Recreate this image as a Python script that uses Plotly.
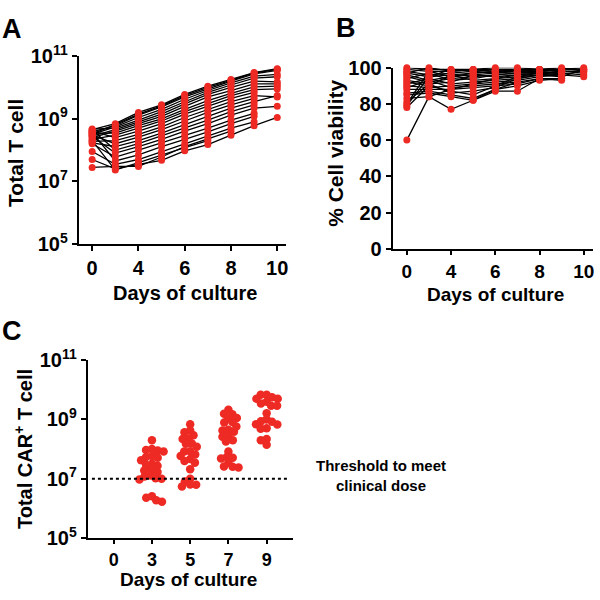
import numpy as np
import plotly.graph_objects as go

# ---------------- data ----------------
DAYS_AB = ["0", "3", "4", "5", "6", "7", "8", "9", "10"]
TICK_DAYS_AB = ["0", "4", "6", "8", "10"]

# Panel A: total T cells per donor (days 0,3,4,5,6,7,8,9,10)
TOTAL_T = [
    [4.5e8, 7.0e8, 1.6e9, 2.8e9, 6.0e9, 1.1e10, 1.8e10, 3.0e10, 4.0e10],
    [3.8e8, 6.0e8, 1.3e9, 2.4e9, 5.0e9, 9.0e9, 1.6e10, 2.7e10, 3.5e10],
    [3.2e8, 5.5e8, 1.1e9, 2.0e9, 4.2e9, 8.0e9, 1.4e10, 2.3e10, 2.6e10],
    [4.7e8, 5.0e8, 9.0e8, 1.7e9, 3.5e9, 7.0e9, 1.2e10, 2.0e10, 2.2e10],
    [2.8e8, 4.5e8, 8.0e8, 1.4e9, 3.0e9, 6.0e9, 1.0e10, 1.6e10, 1.5e10],
    [2.5e8, 4.0e8, 7.0e8, 1.2e9, 2.5e9, 5.0e9, 8.0e9, 1.3e10, 1.3e10],
    [3.5e8, 3.5e8, 6.0e8, 1.0e9, 2.0e9, 3.8e9, 6.5e9, 1.05e10, 1.1e10],
    [2.2e8, 3.0e8, 5.0e8, 8.5e8, 1.7e9, 3.0e9, 5.5e9, 8.5e9, 9.0e9],
    [4.0e8, 2.5e8, 4.0e8, 7.0e8, 1.4e9, 2.5e9, 4.5e9, 7.0e9, None],
    [1.9e8, 2.0e8, 3.2e8, 5.5e8, 1.1e9, 2.0e9, 3.5e9, 5.5e9, 5.0e9],
    [3.0e8, 1.6e8, 2.6e8, 4.5e8, 8.5e8, 1.6e9, 2.8e9, 4.5e9, None],
    [1.7e8, 1.3e8, 2.0e8, 3.5e8, 6.5e8, 1.2e9, 2.2e9, 3.5e9, 5.5e9],
    [4.4e8, 1.0e8, 1.6e8, 2.8e8, 5.0e8, 9.0e8, 1.7e9, 2.8e9, None],
    [2.7e8, 8.0e7, 1.3e8, 2.2e8, 4.0e8, 7.0e8, 1.3e9, 2.2e9, 2.5e9],
    [1.6e8, 6.0e7, 1.0e8, 1.7e8, 3.0e8, 5.0e8, 9.0e8, 1.5e9, None],
    [3.7e8, 4.5e7, 7.0e7, 1.3e8, 2.2e8, 3.8e8, 7.0e8, 1.2e9, None],
    [9.0e7, 3.5e7, 5.0e7, 9.0e7, 1.6e8, 2.8e8, 5.0e8, 8.0e8, None],
    [5.0e7, 2.5e7, 3.5e7, 4.7e7, 9.5e7, 1.5e8, 3.0e8, 6.0e8, 1.1e9],
    [2.8e7, 3.0e7, 3.0e7, 6.0e7, 1.3e8, 2.3e8, 4.0e8, None, None],
    [2.0e8, 2.3e7, 4.0e7, 7.0e7, 1.2e8, 2.0e8, None, None, None],
    [3.3e8, 6.5e8, 1.4e9, 2.6e9, 5.5e9, 1.0e10, 1.7e10, 2.9e10, 3.8e10],
]

# Panel B: % viability per donor
VIABILITY = [
    [100, 99, 99, 99, 99, 99, 99, 99, 99],
    [99, 98, 98, 99, 98, 99, 99, 98, 98],
    [98, 96, 97, 98, 99, 98, 99, 99, 100],
    [97, 95, 96, 97, 98, 98, 98, 99, 99],
    [96, 93, 95, 96, 97, 98, 97, 98, 97],
    [95, 92, 94, 95, 96, 97, 98, 97, 96],
    [94, 97, 93, 94, 96, 97, 97, 96, 95],
    [93, 91, 92, 96, 95, 96, 97, 98, None],
    [92, 90, 96, 93, 94, 95, 96, 97, None],
    [91, 94, 91, 92, 93, 94, 96, 95, 99],
    [90, 89, 90, 91, 92, 93, 95, 96, None],
    [89, 93, 89, 90, 91, 92, 94, 94, None],
    [88, 88, 88, 89, 90, 91, 94, 93, None],
    [86, 87, 85, 83, 88, 90, 93, 94, None],
    [85, 86, 84, 82, 87, 87, 94, None, None],
    [83, 84, 77, 82, 88, 92, None, None, None],
    [81, 91, 86, 87, 89, 94, 96, None, None],
    [80, 98, 95, 97, 98, 99, 98, 99, None],
    [79, 95, 99, 98, 97, 98, 99, 98, None],
    [78, 90, 87, 85, 90, 95, 97, 96, None],
    [60, 84, 88, 91, 94, 96, 97, None, None],
    [97, 100, 98, 99, 100, 100, 99, 100, 98],
]

# Panel C: total CAR+ T cells
DAYS_C = ["0", "3", "5", "7", "9"]
CAR_T = {
    "3": [2.0e8, 1.0e8, 8.9e7, 8.3e7, 9.3e7, 5.8e7, 5.1e7, 5.4e7, 4.2e7, 3.2e7, 2.9e7, 2.75e7,
          2.0e7, 1.9e7, 1.7e7, 1.3e7, 1.2e7, 1.0e7, 9.5e6, 1.05e7, 2.6e6, 2.3e6, 1.9e6, 1.7e6],
    "5": [6.8e8, 4.2e8, 3.7e8, 2.9e8, 2.2e8, 2.25e8, 1.55e8, 1.5e8, 1.2e8, 8.3e7, 8.4e7, 6.6e7,
          5.8e7, 4.6e7, 4.0e7, 3.5e7, 2.1e7, 1.0e7, 8.1e6, 6.3e6, 5.5e6, 6.4e6],
    "7": [2.1e9, 1.55e9, 1.5e9, 1.1e9, 1.12e9, 8.1e8, 7.8e8, 5.8e8, 4.5e8, 4.2e8, 3.8e8, 2.7e8,
          2.6e8, 2.0e8, 1.8e8, 8.3e7, 5.4e7, 5.1e7, 4.8e7, 3.5e7, 2.6e7, 2.55e7, 2.4e7],
    "9": [6.8e9, 6.7e9, 5.6e9, 4.9e9, 4.9e9, 3.9e9, 3.4e9, 2.9e9, 2.85e9, 1.6e9, 1.0e9, 8.7e8,
          8.3e8, 6.8e8, 6.7e8, 5.0e8, 4.8e8, 2.2e8, 2.0e8, 1.4e8],
}
THRESHOLD = 1e7

# ---------------- style ----------------
RED = "#EE2A24"
FONT = "Liberation Sans, Arial, Helvetica, sans-serif"
W = H = 600


def px2x(p):
    return p / W


def px2y(p):
    return 1 - p / H


fig = go.Figure()

xA = list(range(len(DAYS_AB)))

# Panel A lines then markers
for s in TOTAL_T:
    fig.add_trace(go.Scatter(x=xA, y=s, mode="lines", line=dict(color="black", width=1.3),
                             xaxis="x", yaxis="y", showlegend=False, hoverinfo="skip"))
for s in TOTAL_T:
    fig.add_trace(go.Scatter(x=xA, y=s, mode="markers", marker=dict(color=RED, size=7),
                             xaxis="x", yaxis="y", showlegend=False, cliponaxis=False))

# Panel B
for s in VIABILITY:
    fig.add_trace(go.Scatter(x=xA, y=s, mode="lines", line=dict(color="black", width=1.3),
                             xaxis="x2", yaxis="y2", showlegend=False, hoverinfo="skip"))
for s in VIABILITY:
    fig.add_trace(go.Scatter(x=xA, y=s, mode="markers", marker=dict(color=RED, size=7),
                             xaxis="x2", yaxis="y2", showlegend=False, cliponaxis=False))

# Panel C: beeswarm offsets computed from values (pixel-space collision avoidance)
C_XPX = 38.4   # pixels per category
C_YPX = 31.0   # pixels per decade
SPACING = 6.0  # minimum centre distance (dots overlap like the original)


def swarm(values):
    ys = np.log10(np.array(values, dtype=float)) * C_YPX
    order = np.argsort(-ys)
    placed = []
    offs = np.zeros(len(values))
    for i in order:
        y = ys[i]
        cands = [0.0]
        for (px, py) in placed:
            dy = abs(y - py)
            if dy < SPACING:
                dx = np.sqrt(SPACING ** 2 - dy ** 2)
                cands += [px + dx, px - dx]
        cands.sort(key=lambda c: (abs(c), c))
        for c in cands:
            if all((c - px) ** 2 + (y - py) ** 2 >= SPACING ** 2 - 1e-6 for px, py in placed):
                offs[i] = c
                placed.append((c, y))
                break
    return offs / C_XPX


for day, vals in CAR_T.items():
    idx = DAYS_C.index(day)
    xs = idx + swarm(vals)
    fig.add_trace(go.Scatter(x=xs, y=vals, mode="markers", marker=dict(color=RED, size=8.5),
                             xaxis="x3", yaxis="y3", showlegend=False, cliponaxis=False))

# threshold line (dotted) across panel C
fig.add_trace(go.Scatter(x=[-0.57, 4.58], y=[THRESHOLD, THRESHOLD], mode="lines",
                         line=dict(color="black", width=2, dash="dot"),
                         xaxis="x3", yaxis="y3", showlegend=False, hoverinfo="skip"))

axis_common = dict(showline=True, linecolor="black", linewidth=2, ticks="outside",
                   ticklen=5, tickwidth=2, tickcolor="black", showgrid=False, zeroline=False,
                   tickfont=dict(family=FONT, size=20, color="black", weight="bold"))

log_ticks = [1e5, 1e7, 1e9, 1e11]
log_text = ["10<sup>5</sup>", "10<sup>7</sup>", "10<sup>9</sup>", "10<sup>11</sup>"]

tickidx = [DAYS_AB.index(d) for d in TICK_DAYS_AB]

fig.update_layout(
    width=W, height=H, margin=dict(l=0, r=0, t=0, b=0),
    paper_bgcolor="white", plot_bgcolor="white",
    xaxis=dict(axis_common, domain=[px2x(79), px2x(287)], range=[-0.58, 8.38],
               tickmode="array", tickvals=tickidx, ticktext=TICK_DAYS_AB, anchor="y"),
    yaxis=dict(axis_common, domain=[px2y(240), px2y(44)], type="log", range=[5, 11],
               tickmode="array", tickvals=log_ticks, ticktext=log_text, anchor="x"),
    xaxis2=dict(axis_common, domain=[px2x(394), px2x(595)], range=[-0.64, 8.42],
                tickmode="array", tickvals=tickidx, ticktext=TICK_DAYS_AB, anchor="y2",
                ticklen=4, tickfont=dict(family=FONT, size=19, color="black", weight="bold")),
    yaxis2=dict(axis_common, domain=[px2y(245), px2y(56)], range=[0, 100],
                tickmode="array", tickvals=[0, 20, 40, 60, 80, 100], anchor="x2"),
    xaxis3=dict(axis_common, domain=[px2x(88), px2x(294)], range=[-0.68, 4.69],
                tickmode="array", tickvals=list(range(len(DAYS_C))), ticktext=DAYS_C,
                anchor="y3", ticklen=4,
                tickfont=dict(family=FONT, size=18, color="black", weight="bold")),
    yaxis3=dict(axis_common, domain=[px2y(547), px2y(361)], type="log", range=[5, 11],
                tickmode="array", tickvals=log_ticks, ticktext=log_text, anchor="x3"),
)

ann = []


def add_text(text, xp, yp, size, angle=0):
    ann.append(dict(text="<b>" + text + "</b>", x=px2x(xp), y=px2y(yp), xref="paper", yref="paper",
                    showarrow=False, textangle=angle, xanchor="center", yanchor="middle",
                    font=dict(family=FONT, size=size, color="black")))


add_text("A", 12, 16, 27)
add_text("B", 347, 15, 27)
add_text("C", 12, 331, 27)
add_text("Total T cell", 16, 145, 21, -90)
add_text("Days of culture", 186, 291, 20)
add_text("% Cell viability", 337, 145, 21, -90)
add_text("Days of culture", 497, 293, 19)
add_text("Total CAR<sup>+</sup> T cell", 23, 454, 20, -90)
add_text("Days of culture", 189, 590, 19)
add_text("Threshold to meet<br>clinical dose", 382, 482, 15)

fig.update_layout(annotations=ann)

fig.write_html("out.html", config={"displayModeBar": False},
               post_script="document.body.style.margin='0px';")
